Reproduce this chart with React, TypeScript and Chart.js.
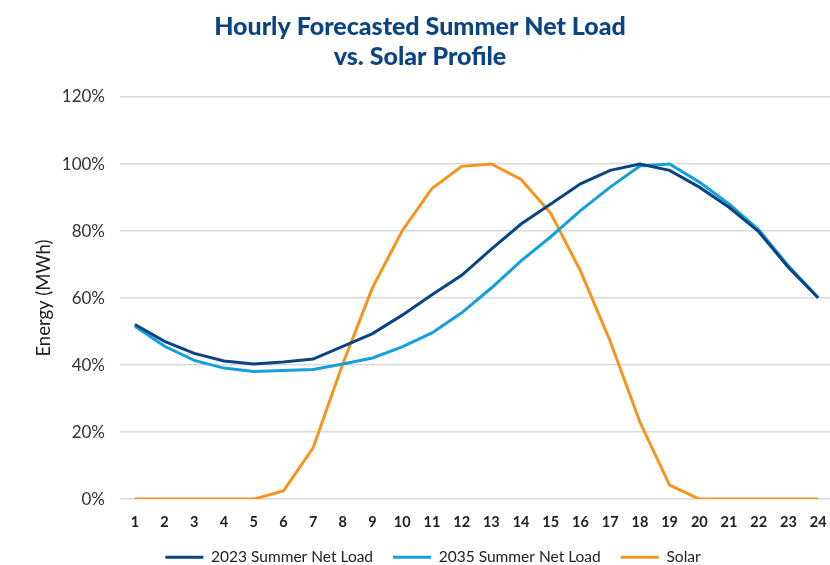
import React, { useEffect, useRef } from "react";
import { Chart, registerables } from "chart.js";

Chart.register(...registerables);

const hours = ["1","2","3","4","5","6","7","8","9","10","11","12","13","14","15","16","17","18","19","20","21","22","23","24"];
const load2023 = [52.1, 47.1, 43.5, 41.2, 40.3, 40.9, 41.8, 45.6, 49.4, 54.9, 61.0, 66.8, 74.6, 82.1, 88.1, 94.1, 98.1, 100, 98.1, 93.1, 87.1, 79.8, 69.1, 60.1];
const load2035 = [51.6, 45.6, 41.4, 39.1, 38.1, 38.4, 38.7, 40.3, 42.1, 45.4, 49.6, 55.6, 63.0, 71.1, 78.3, 86.1, 93.1, 99.4, 100, 94.6, 88.1, 80.4, 69.6, 60.1];
const solar = [0, 0, 0, 0, 0, 2.4, 15.3, 40.4, 63.1, 80.1, 92.7, 99.3, 100, 95.4, 85.3, 68.1, 47.1, 23.0, 4.2, 0, 0, 0, 0, 0];
const yTicks = [0, 20, 40, 60, 80, 100, 120];

const shiftLegend = {
  id: "shiftLegend",
  afterLayout(chart: any) {
    if (chart.legend) {
      chart.legend.left += 13;
      chart.legend.right += 13;
    }
  },
};

export default function App() {
  const ref = useRef<HTMLCanvasElement>(null);
  useEffect(() => {
    document.body.style.margin = "0";
    const ctx = ref.current!;
    const chart = new Chart(ctx, {
      type: "line",
      data: {
        labels: hours,
        datasets: [
          { label: "2023 Summer Net Load", data: load2023, borderColor: "#0b4482", backgroundColor: "#0b4482", borderWidth: 3, pointRadius: 0, tension: 0 },
          { label: "2035 Summer Net Load", data: load2035, borderColor: "#14a0dc", backgroundColor: "#14a0dc", borderWidth: 3, pointRadius: 0, tension: 0 },
          { label: "Solar", data: solar, borderColor: "#f7941d", backgroundColor: "#f7941d", borderWidth: 3, pointRadius: 0, tension: 0 },
        ],
      },
      plugins: [shiftLegend],
      options: {
        animation: false,
        responsive: false,
        layout: { padding: { left: 7, right: 10, top: 12, bottom: -10 } },
        plugins: {
          title: {
            display: true,
            text: ["Hourly Forecasted Summer Net Load", "vs. Solar Profile"],
            color: "#0b4482",
            font: { family: "Lato", size: 25, weight: "900" },
            lineHeight: 1.32,
            padding: { top: 0, bottom: 25 },
          },
          legend: {
            position: "bottom",
            labels: {
              color: "#222",
              font: { family: "Lato", size: 15.5 },
              boxWidth: 38,
              boxHeight: 3,
              padding: 20,
              generateLabels: (c: any) =>
                Chart.defaults.plugins.legend.labels.generateLabels(c).map((l: any) => ({ ...l, lineWidth: 0 })),
            },
          },
          tooltip: { enabled: false },
        },
        scales: {
          x: {
            offset: true,
            grid: { display: false, drawTicks: false },
            border: { display: false },
            ticks: { color: "#222", font: { family: "Lato", size: 14.5, weight: "bold" }, padding: 15, maxRotation: 0, autoSkip: false },
            afterFit: (a: any) => { a.height = a.height - 17; a.paddingLeft = 0; a.paddingRight = 0; },
          },
          y: {
            min: 0,
            max: 120,
            afterBuildTicks: (axis: any) => { axis.ticks = yTicks.map((v) => ({ value: v })); },
            afterFit: (a: any) => { a.width = 113; },
            grid: { color: "#d9d9d9", lineWidth: 1.5, drawTicks: false },
            border: { display: false },
            ticks: { color: "#333", font: { family: "Lato", size: 17 }, padding: 15, callback: (v: any) => v + "%" },
            title: { display: true, text: "Energy (MWh)", color: "#222", font: { family: "Lato", size: 18.5 }, padding: { top: 26, bottom: 10 } },
          },
        },
      },
    });
    return () => chart.destroy();
  }, []);
  return (
    <div style={{ width: 830, height: 565, overflow: "hidden", position: "relative" }}>
      <canvas ref={ref} width={843} height={565} style={{ display: "block" }} />
    </div>
  );
}
